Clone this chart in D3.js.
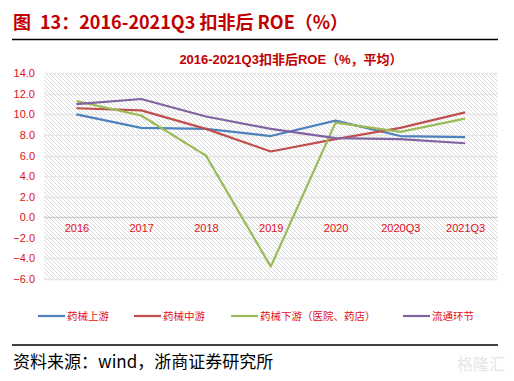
<!DOCTYPE html>
<html><head><meta charset="utf-8">
<script src="https://cdn.jsdelivr.net/npm/d3@7/dist/d3.min.js"></script>
<style>body{margin:0;background:#fff;}svg{display:block;}</style>
</head><body><svg id="c" width="514" height="381"></svg>
<script>
const categories = ["2016","2017","2018","2019","2020","2020Q3","2021Q3"];
const upstream   = [10.0, 8.7, 8.6, 7.9, 9.4, 7.9, 7.8];
const midstream  = [10.6, 10.4, 8.6, 6.4, 7.6, 8.7, 10.2];
const downstream = [11.3, 9.9, 6.0, -4.8, 9.2, 8.3, 9.6];
const circulation= [11.0, 11.5, 9.8, 8.6, 7.7, 7.6, 7.2];
const seriesNames = ["药械上游","药械中游","药械下游（医院、药店）","流通环节"];
const seriesColors = ["#4F81BD","#C0504D","#9BBB59","#8064A2"];
const yTicks = [14,12,10,8,6,4,2,0,-2,-4,-6];

const svg = d3.select("#c");
const red = "#C00000";
const labelRed = "#E0101A";

// Main title
const t = svg.append("text").attr("x",13).attr("y",29)
  .attr("font-family","'Noto Sans CJK SC', 'Liberation Sans', sans-serif")
  .attr("font-weight","bold").attr("font-size",18).attr("fill",red);
t.append("tspan").text("图");
t.append("tspan").attr("x",40).text("13：2016-2021Q3 扣非后 ROE（%）");
svg.append("line").attr("x1",12).attr("x2",498).attr("y1",39.5).attr("y2",39.5)
  .attr("stroke","#000").attr("stroke-width",1.5);

// Chart title
svg.append("text").attr("x",291).attr("y",64).attr("text-anchor","middle")
  .attr("font-family","'Liberation Sans', 'Noto Sans CJK SC', sans-serif")
  .attr("font-weight","bold").attr("font-size",13).attr("fill",red)
  .text("2016-2021Q3扣非后ROE（%，平均）");

const plot = {left:44, right:497.5, top:73.3, bottom:279};

// hatch pattern
const defs = svg.append("defs");
const pat = defs.append("pattern").attr("id","hatch").attr("patternUnits","userSpaceOnUse")
  .attr("width",4).attr("height",4);
pat.append("rect").attr("width",4).attr("height",4).attr("fill","#fff");
pat.append("path").attr("d","M-1,-1 L5,5 M-1,3 L1,5 M3,-1 L5,1").attr("stroke","#d9d9d9").attr("stroke-width",1);

svg.append("rect").attr("x",plot.left).attr("y",plot.top)
  .attr("width",plot.right-plot.left).attr("height",plot.bottom-plot.top)
  .attr("fill","url(#hatch)");

const x = d3.scalePoint().domain(categories).range([plot.left, plot.right]).padding(0.5);
const y = d3.scaleLinear().domain([-6,14]).range([plot.bottom, plot.top]);

// gridlines
svg.append("g").selectAll("line").data(yTicks).join("line")
  .attr("x1",plot.left).attr("x2",plot.right)
  .attr("y1",d=>Math.round(y(d))+0.5).attr("y2",d=>Math.round(y(d))+0.5)
  .attr("stroke",d=>d===0?"#cfcfcf":"#e6e6e6").attr("stroke-width",1.5);

// y axis labels
const yAxis = d3.axisLeft(y).tickValues(yTicks).tickFormat(d3.format(".1f")).tickSize(0).tickPadding(0);
const gy = svg.append("g").attr("transform",`translate(35,0)`).call(yAxis);
gy.select(".domain").remove();
gy.selectAll("text").attr("fill",labelRed).attr("font-size",11)
  .attr("font-family","'Liberation Sans', Arial, sans-serif");

// x axis labels (placed below 0 line)
const xAxis = d3.axisBottom(x).tickSize(0).tickPadding(0);
const gx = svg.append("g").attr("transform",`translate(0,${y(0)+7})`).call(xAxis);
gx.select(".domain").remove();
gx.selectAll("text").attr("fill",labelRed).attr("font-size",11)
  .attr("font-family","'Liberation Sans', Arial, sans-serif");

// lines
const allSeries = [upstream, midstream, downstream, circulation];
const line = d3.line().x((d,i)=>x(categories[i])).y(d=>y(d));
svg.append("g").selectAll("path").data(allSeries).join("path")
  .attr("d",line).attr("fill","none")
  .attr("stroke",(d,i)=>seriesColors[i]).attr("stroke-width",2.2)
  .attr("stroke-linejoin","round");

// legend
const legendX = [38,134,231,403];
const lg = svg.append("g");
seriesNames.forEach((n,i)=>{
  lg.append("line").attr("x1",legendX[i]).attr("x2",legendX[i]+27)
    .attr("y1",316).attr("y2",316).attr("stroke",seriesColors[i]).attr("stroke-width",2.2);
  lg.append("text").attr("x",legendX[i]+29).attr("y",320)
    .attr("font-family","'Noto Sans CJK SC', sans-serif").attr("font-size",10.5)
    .attr("fill",labelRed).text(n);
});

svg.append("line").attr("x1",12).attr("x2",498).attr("y1",345).attr("y2",345)
  .attr("stroke","#000").attr("stroke-width",1.5);

svg.append("text").attr("x",13).attr("y",368)
  .attr("font-family","'Noto Sans CJK SC', serif").attr("font-size",17).attr("fill","#000")
  .text("资料来源：wind，浙商证券研究所");

svg.append("text").attr("x",505).attr("y",370).attr("text-anchor","end")
  .attr("font-family","'Noto Sans CJK SC', sans-serif").attr("font-size",16)
  .attr("fill","#e6e6e6").text("格隆汇");
</script></body></html>
